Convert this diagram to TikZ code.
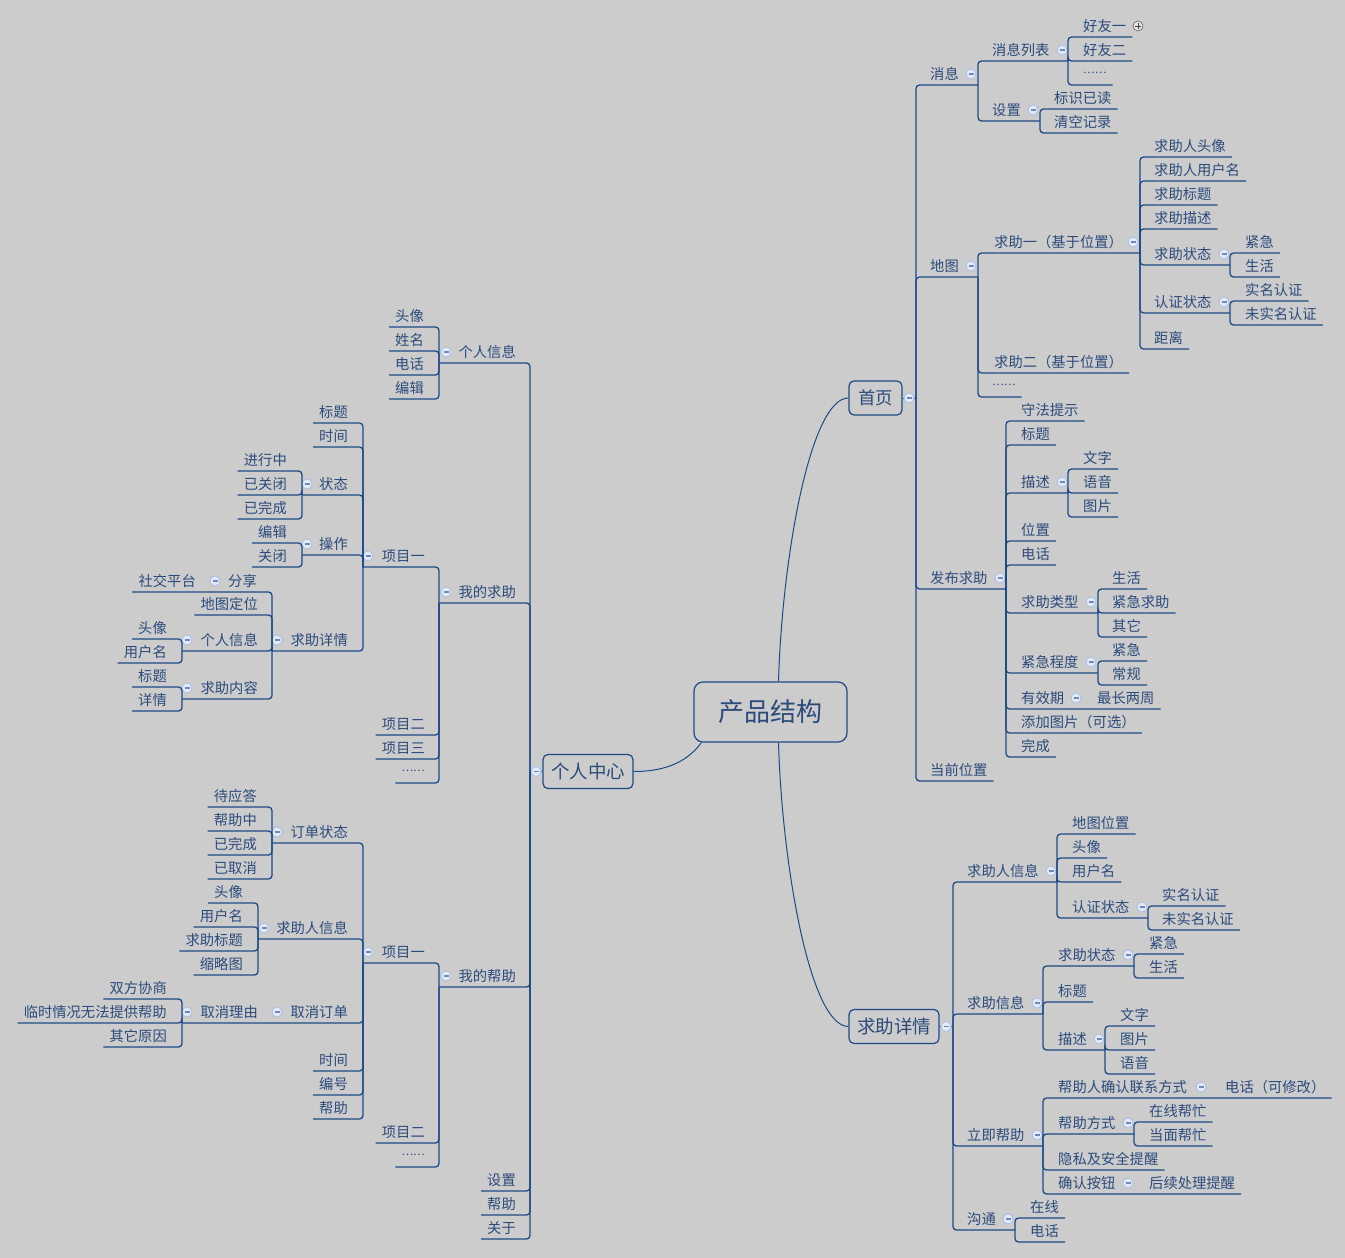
\documentclass[tikz,border=0pt]{standalone}
\usepackage{fontspec}
\setmainfont{Noto Sans CJK SC}
\usepackage{tikz}
\definecolor{mapbg}{HTML}{CCCCCC}
\definecolor{mapline}{HTML}{1D4A86}
\definecolor{maptext}{HTML}{2B4B7B}
\definecolor{knobfill}{HTML}{E2EAF8}
\definecolor{knobdraw}{HTML}{A9BDE6}
\definecolor{knobdash}{HTML}{7088BC}
\newcommand\etc{{\fontsize{11}{12}\selectfont\raisebox{6pt}{……}}}
\tikzset{
  topic/.style={font=\fontsize{14.3}{16}\selectfont, text=maptext, inner sep=0pt, text height=11pt, text depth=5pt},
  rtopic/.style={topic, anchor=south west},
  ltopic/.style={topic, anchor=south east},
  branch/.style={draw=mapline, line width=1.3pt, rounded corners=3.5pt},
  curve/.style={draw=mapline, line width=1pt},
  knob/.style={circle, inner sep=0pt, minimum size=10pt, fill=knobfill, draw=knobdraw, line width=0.8pt,
    path picture={\draw[knobdash, line width=1.2pt] ([xshift=-2.5pt]path picture bounding box.center) -- ([xshift=2.5pt]path picture bounding box.center);}},
  plusknob/.style={circle, inner sep=0pt, minimum size=10pt, fill=black!10, draw=black!55, line width=0.7pt,
    path picture={\draw[black!75, line width=0.9pt] ([xshift=-2.6pt]path picture bounding box.center) -- ([xshift=2.6pt]path picture bounding box.center)
      ([yshift=-2.6pt]path picture bounding box.center) -- ([yshift=2.6pt]path picture bounding box.center);}},
  hub/.style={draw=mapline, line width=1.2pt, rounded corners=5pt, text=maptext, minimum height=34pt, inner sep=0pt, font=\fontsize{18.5}{20}\selectfont},
  central/.style={hub, rounded corners=9pt, minimum width=153pt, minimum height=60pt, font=\fontsize{26}{30}\selectfont}
}

\begin{document}
\begin{tikzpicture}[x=1pt, y=-1pt]
  \fill[mapbg] (0,0) rectangle (1345,1258);
  \useasboundingbox (0,0) rectangle (1345,1258);

  % centre and main topics
  \node[central] (core) at (770.5,712) {产品结构};
  \node[hub, minimum width=53pt, font=\fontsize{17.5}{20}\selectfont] (home) at (875.5,398) {首页};
  \node[hub, minimum width=90pt] (mine) at (588,771.5) {个人中心};
  \node[hub, minimum width=90pt] (detail) at (894,1026.5) {求助详情};
  \draw[curve] ([xshift=8pt]core.north) .. controls (782,560) and (810,398) .. (home.west);
  \draw[curve] ([xshift=8pt]core.south) .. controls (782,864) and (810,1026.5) .. (detail.west);
  \draw[curve] ([xshift=8pt]core.south west) .. controls (685,765) and (660,771.5) .. (mine.east);

  % 首页
  \coordinate (jhome) at (916,398);
  \draw[curve] (home.east) -- (jhome);
  \node[knob] (khome) at (909,398) {};

  \node[rtopic] (msg) at (930,85) {消息};
  \coordinate (jmsg) at (978,85);
  \draw[branch] (jhome) |- (jmsg);
  \node[knob] (kmsg) at (971,74) {};
  \node[rtopic] (msglist) at (992,61) {消息列表};
  \coordinate (jmsglist) at (1068,61);
  \draw[branch] (jmsg) |- (jmsglist);
  \node[knob] (kmsglist) at (1062,50) {};
  \foreach \nm/\yy/\tx in {fr1/37/好友一, fr2/61/好友二, fr3/85/\etc} {
    \node[rtopic] (\nm) at (1083,\yy) {\tx};
    \draw[branch] (jmsglist) |- ([xshift=6pt]\nm.south east);
  }
  \node[plusknob] (kfr1) at (1138,26) {};
  \node[rtopic] (msgset) at (992,121) {设置};
  \coordinate (jmsgset) at (1040,121);
  \draw[branch] (jmsg) |- (jmsgset);
  \node[knob] (kmsgset) at (1033,110) {};
  \foreach \nm/\yy/\tx in {rd/109/标识已读, cl/133/清空记录} {
    \node[rtopic] (\nm) at (1054,\yy) {\tx};
    \draw[branch] (jmsgset) |- ([xshift=6pt]\nm.south east);
  }

  \node[rtopic] (map) at (930,277) {地图};
  \coordinate (jmap) at (978,277);
  \draw[branch] (jhome) |- (jmap);
  \node[knob] (kmap) at (971,266) {};
  \node[rtopic] (req1) at (994,253) {求助一（基于位置）};
  \coordinate (jreq1) at (1140,253);
  \draw[branch] (jmap) |- (jreq1);
  \node[knob] (kreq1) at (1133,242) {};
  \foreach \nm/\yy/\tx in {ra/157/求助人头像, rb/181/求助人用户名, rc/205/求助标题, re/229/求助描述, rf/349/距离} {
    \node[rtopic] (\nm) at (1154,\yy) {\tx};
    \draw[branch] (jreq1) |- ([xshift=6pt]\nm.south east);
  }
  \node[rtopic] (rstate) at (1154,265) {求助状态};
  \coordinate (jrstate) at (1230,265);
  \draw[branch] (jreq1) |- (jrstate);
  \node[knob] (krstate) at (1224,254) {};
  \foreach \nm/\yy/\tx in {rs1/253/紧急, rs2/277/生活} {
    \node[rtopic] (\nm) at (1245,\yy) {\tx};
    \draw[branch] (jrstate) |- ([xshift=6pt]\nm.south east);
  }
  \node[rtopic] (rauth) at (1154,313) {认证状态};
  \coordinate (jrauth) at (1230,313);
  \draw[branch] (jreq1) |- (jrauth);
  \node[knob] (krauth) at (1224,302) {};
  \foreach \nm/\yy/\tx in {ra1/301/实名认证, ra2/325/未实名认证} {
    \node[rtopic] (\nm) at (1245,\yy) {\tx};
    \draw[branch] (jrauth) |- ([xshift=6pt]\nm.south east);
  }
  \node[rtopic] (req2) at (994,373) {求助二（基于位置）};
  \draw[branch] (jmap) |- ([xshift=6pt]req2.south east);
  \node[rtopic] (mapetc) at (992,397) {\etc};
  \draw[branch] (jmap) |- ([xshift=6pt]mapetc.south east);

  \node[rtopic] (post) at (930,589) {发布求助};
  \coordinate (jpost) at (1006,589);
  \draw[branch] (jhome) |- (jpost);
  \node[knob] (kpost) at (1000,578) {};
  \foreach \nm/\yy/\tx in {p1/421/守法提示, p2/445/标题, p3/541/位置, p4/565/电话, p5/733/添加图片（可选）, p6/757/完成} {
    \node[rtopic] (\nm) at (1021,\yy) {\tx};
    \draw[branch] (jpost) |- ([xshift=6pt]\nm.south east);
  }
  \node[rtopic] (pdesc) at (1021,493) {描述};
  \coordinate (jpdesc) at (1068,493);
  \draw[branch] (jpost) |- (jpdesc);
  \node[knob] (kpdesc) at (1062,482) {};
  \foreach \nm/\yy/\tx in {pd1/469/文字, pd2/493/语音, pd3/517/图片} {
    \node[rtopic] (\nm) at (1083,\yy) {\tx};
    \draw[branch] (jpdesc) |- ([xshift=6pt]\nm.south east);
  }
  \node[rtopic] (ptype) at (1021,613) {求助类型};
  \coordinate (jptype) at (1098,613);
  \draw[branch] (jpost) |- (jptype);
  \node[knob] (kptype) at (1091,602) {};
  \foreach \nm/\yy/\tx in {pt1/589/生活, pt2/613/紧急求助, pt3/637/其它} {
    \node[rtopic] (\nm) at (1112,\yy) {\tx};
    \draw[branch] (jptype) |- ([xshift=6pt]\nm.south east);
  }
  \node[rtopic] (plevel) at (1021,673) {紧急程度};
  \coordinate (jplevel) at (1098,673);
  \draw[branch] (jpost) |- (jplevel);
  \node[knob] (kplevel) at (1091,662) {};
  \foreach \nm/\yy/\tx in {pl1/661/紧急, pl2/685/常规} {
    \node[rtopic] (\nm) at (1112,\yy) {\tx};
    \draw[branch] (jplevel) |- ([xshift=6pt]\nm.south east);
  }
  \node[rtopic] (pvalid) at (1021,709) {有效期};
  \node[knob] (kpvalid) at (1076,698) {};
  \node[rtopic] (pweeks) at (1097,709) {最长两周};
  \draw[branch] (jpost) |- ([xshift=6pt]pweeks.south east);

  \node[rtopic] (here) at (930,781) {当前位置};
  \draw[branch] (jhome) |- ([xshift=6pt]here.south east);

  % 求助详情
  \coordinate (jdetail) at (953,1026.5);
  \draw[curve] (detail.east) -- (jdetail);
  \node[knob] (kdetail) at (946,1026.5) {};

  \node[rtopic] (seeker) at (967,882) {求助人信息};
  \coordinate (jseeker) at (1057,882);
  \draw[branch] (jdetail) |- (jseeker);
  \node[knob] (kseeker) at (1051,871) {};
  \foreach \nm/\yy/\tx in {sk1/834/地图位置, sk2/858/头像, sk3/882/用户名} {
    \node[rtopic] (\nm) at (1072,\yy) {\tx};
    \draw[branch] (jseeker) |- ([xshift=6pt]\nm.south east);
  }
  \node[rtopic] (skauth) at (1072,918) {认证状态};
  \coordinate (jskauth) at (1148,918);
  \draw[branch] (jseeker) |- (jskauth);
  \node[knob] (kskauth) at (1142,907) {};
  \foreach \nm/\yy/\tx in {sa1/906/实名认证, sa2/930/未实名认证} {
    \node[rtopic] (\nm) at (1162,\yy) {\tx};
    \draw[branch] (jskauth) |- ([xshift=6pt]\nm.south east);
  }

  \node[rtopic] (rinfo) at (967,1014) {求助信息};
  \coordinate (jrinfo) at (1043,1014);
  \draw[branch] (jdetail) |- (jrinfo);
  \node[knob] (krinfo) at (1037,1003) {};
  \node[rtopic] (ristate) at (1058,966) {求助状态};
  \coordinate (jristate) at (1134,966);
  \draw[branch] (jrinfo) |- (jristate);
  \node[knob] (kristate) at (1128,955) {};
  \foreach \nm/\yy/\tx in {is1/954/紧急, is2/978/生活} {
    \node[rtopic] (\nm) at (1149,\yy) {\tx};
    \draw[branch] (jristate) |- ([xshift=6pt]\nm.south east);
  }
  \node[rtopic] (rititle) at (1058,1002) {标题};
  \draw[branch] (jrinfo) |- ([xshift=6pt]rititle.south east);
  \node[rtopic] (ridesc) at (1058,1050) {描述};
  \coordinate (jridesc) at (1105,1050);
  \draw[branch] (jrinfo) |- (jridesc);
  \node[knob] (kridesc) at (1099,1039) {};
  \foreach \nm/\yy/\tx in {id1/1026/文字, id2/1050/图片, id3/1074/语音} {
    \node[rtopic] (\nm) at (1120,\yy) {\tx};
    \draw[branch] (jridesc) |- ([xshift=6pt]\nm.south east);
  }

  \node[rtopic] (helpnow) at (967,1146) {立即帮助};
  \coordinate (jhelpnow) at (1043,1146);
  \draw[branch] (jdetail) |- (jhelpnow);
  \node[knob] (khelpnow) at (1037,1135) {};
  \node[rtopic] (contact) at (1058,1098) {帮助人确认联系方式};
  \node[knob] (kcontact) at (1201,1087) {};
  \node[rtopic] (ctphone) at (1225,1098) {电话（可修改）};
  \draw[branch] (jhelpnow) |- ([xshift=6pt]ctphone.south east);
  \node[rtopic] (way) at (1058,1134) {帮助方式};
  \coordinate (jway) at (1134,1134);
  \draw[branch] (jhelpnow) |- (jway);
  \node[knob] (kway) at (1128,1123) {};
  \foreach \nm/\yy/\tx in {wy1/1122/在线帮忙, wy2/1146/当面帮忙} {
    \node[rtopic] (\nm) at (1149,\yy) {\tx};
    \draw[branch] (jway) |- ([xshift=6pt]\nm.south east);
  }
  \node[rtopic] (privacy) at (1058,1170) {隐私及安全提醒};
  \draw[branch] (jhelpnow) |- ([xshift=6pt]privacy.south east);
  \node[rtopic] (okbtn) at (1058,1194) {确认按钮};
  \node[knob] (kokbtn) at (1128,1183) {};
  \node[rtopic] (follow) at (1149,1194) {后续处理提醒};
  \draw[branch] (jhelpnow) |- ([xshift=6pt]follow.south east);

  \node[rtopic] (talk) at (967,1230) {沟通};
  \coordinate (jtalk) at (1015,1230);
  \draw[branch] (jdetail) |- (jtalk);
  \node[knob] (ktalk) at (1008,1219) {};
  \foreach \nm/\yy/\tx in {tk1/1218/在线, tk2/1242/电话} {
    \node[rtopic] (\nm) at (1030,\yy) {\tx};
    \draw[branch] (jtalk) |- ([xshift=6pt]\nm.south east);
  }

  % 个人中心
  \coordinate (jmine) at (530,771.5);
  \draw[curve] (mine.west) -- (jmine);
  \node[knob] (kmine) at (536,771.5) {};

  \node[ltopic] (profile) at (516,363) {个人信息};
  \coordinate (jprofile) at (439,363);
  \draw[branch] (jmine) |- (jprofile);
  \node[knob] (kprofile) at (446,352) {};
  \foreach \nm/\yy/\tx in {pf1/327/头像, pf2/351/姓名, pf3/375/电话, pf4/399/编辑} {
    \node[ltopic] (\nm) at (424,\yy) {\tx};
    \draw[branch] (jprofile) |- ([xshift=-6pt]\nm.south west);
  }

  \node[ltopic] (myreq) at (516,603) {我的求助};
  \coordinate (jmyreq) at (439,603);
  \draw[branch] (jmine) |- (jmyreq);
  \node[knob] (kmyreq) at (446,592) {};
  \node[ltopic] (mr1) at (425,567) {项目一};
  \coordinate (jmr1) at (363,567);
  \draw[branch] (jmyreq) |- (jmr1);
  \node[knob] (kmr1) at (368,556) {};
  \foreach \nm/\yy/\tx in {mt1/423/标题, mt2/447/时间} {
    \node[ltopic] (\nm) at (348,\yy) {\tx};
    \draw[branch] (jmr1) |- ([xshift=-6pt]\nm.south west);
  }
  \node[ltopic] (mrstate) at (348,495) {状态};
  \coordinate (jmrstate) at (302,495);
  \draw[branch] (jmr1) |- (jmrstate);
  \node[knob] (kmrstate) at (307,484) {};
  \foreach \nm/\yy/\tx in {ms1/471/进行中, ms2/495/已关闭, ms3/519/已完成} {
    \node[ltopic] (\nm) at (287,\yy) {\tx};
    \draw[branch] (jmrstate) |- ([xshift=-6pt]\nm.south west);
  }
  \node[ltopic] (mrop) at (348,555) {操作};
  \coordinate (jmrop) at (302,555);
  \draw[branch] (jmr1) |- (jmrop);
  \node[knob] (kmrop) at (307,544) {};
  \foreach \nm/\yy/\tx in {mo1/543/编辑, mo2/567/关闭} {
    \node[ltopic] (\nm) at (287,\yy) {\tx};
    \draw[branch] (jmrop) |- ([xshift=-6pt]\nm.south west);
  }
  \node[ltopic] (mrdet) at (348,651) {求助详情};
  \coordinate (jmrdet) at (272,651);
  \draw[branch] (jmr1) |- (jmrdet);
  \node[knob] (kmrdet) at (277,640) {};
  \node[ltopic] (share) at (257,592) {分享};
  \node[knob] (kshare) at (215,581) {};
  \node[ltopic] (social) at (196,592) {社交平台};
  \draw[branch] (jmrdet) |- ([xshift=-6pt]social.south west);
  \node[ltopic] (mdloc) at (258,615) {地图定位};
  \draw[branch] (jmrdet) |- ([xshift=-6pt]mdloc.south west);
  \node[ltopic] (mdinfo) at (258,651) {个人信息};
  \coordinate (jmdinfo) at (182,651);
  \draw[branch] (jmrdet) |- (jmdinfo);
  \node[knob] (kmdinfo) at (187,640) {};
  \foreach \nm/\yy/\tx in {mi1/639/头像, mi2/663/用户名} {
    \node[ltopic] (\nm) at (167,\yy) {\tx};
    \draw[branch] (jmdinfo) |- ([xshift=-6pt]\nm.south west);
  }
  \node[ltopic] (mdcont) at (258,699) {求助内容};
  \coordinate (jmdcont) at (182,699);
  \draw[branch] (jmrdet) |- (jmdcont);
  \node[knob] (kmdcont) at (187,688) {};
  \foreach \nm/\yy/\tx in {mc1/687/标题, mc2/711/详情} {
    \node[ltopic] (\nm) at (167,\yy) {\tx};
    \draw[branch] (jmdcont) |- ([xshift=-6pt]\nm.south west);
  }
  \foreach \nm/\yy/\tx in {mr2/735/项目二, mr3/759/项目三, mr4/783/\etc} {
    \node[ltopic] (\nm) at (425,\yy) {\tx};
    \draw[branch] (jmyreq) |- ([xshift=-6pt]\nm.south west);
  }

  \node[ltopic] (myhelp) at (516,987) {我的帮助};
  \coordinate (jmyhelp) at (439,987);
  \draw[branch] (jmine) |- (jmyhelp);
  \node[knob] (kmyhelp) at (446,976) {};
  \node[ltopic] (mh1) at (425,963) {项目一};
  \coordinate (jmh1) at (363,963);
  \draw[branch] (jmyhelp) |- (jmh1);
  \node[knob] (kmh1) at (368,952) {};
  \node[ltopic] (order) at (348,843) {订单状态};
  \coordinate (jorder) at (272,843);
  \draw[branch] (jmh1) |- (jorder);
  \node[knob] (korder) at (277,832) {};
  \foreach \nm/\yy/\tx in {od1/807/待应答, od2/831/帮助中, od3/855/已完成, od4/879/已取消} {
    \node[ltopic] (\nm) at (257,\yy) {\tx};
    \draw[branch] (jorder) |- ([xshift=-6pt]\nm.south west);
  }
  \node[ltopic] (mhseek) at (348,939) {求助人信息};
  \coordinate (jmhseek) at (258,939);
  \draw[branch] (jmh1) |- (jmhseek);
  \node[knob] (kmhseek) at (264,928) {};
  \foreach \nm/\yy/\tx in {hs1/903/头像, hs2/927/用户名, hs3/951/求助标题, hs4/975/缩略图} {
    \node[ltopic] (\nm) at (243,\yy) {\tx};
    \draw[branch] (jmhseek) |- ([xshift=-6pt]\nm.south west);
  }
  \node[ltopic] (cancel) at (348,1023) {取消订单};
  \node[knob] (kcancel) at (277,1012) {};
  \node[ltopic] (reason) at (258,1023) {取消理由};
  \coordinate (jreason) at (182,1023);
  \draw[branch] (jmh1) |- (jreason);
  \node[knob] (kreason) at (187,1012) {};
  \foreach \nm/\yy/\tx in {cr1/999/双方协商, cr2/1023/临时情况无法提供帮助, cr3/1047/其它原因} {
    \node[ltopic] (\nm) at (167,\yy) {\tx};
    \draw[branch] (jreason) |- ([xshift=-6pt]\nm.south west);
  }
  \foreach \nm/\yy/\tx in {mx1/1071/时间, mx2/1095/编号, mx3/1119/帮助} {
    \node[ltopic] (\nm) at (348,\yy) {\tx};
    \draw[branch] (jmh1) |- ([xshift=-6pt]\nm.south west);
  }
  \foreach \nm/\yy/\tx in {mh2/1143/项目二, mh3/1167/\etc} {
    \node[ltopic] (\nm) at (425,\yy) {\tx};
    \draw[branch] (jmyhelp) |- ([xshift=-6pt]\nm.south west);
  }

  \foreach \nm/\yy/\tx in {tl1/1191/设置, tl2/1215/帮助, tl3/1239/关于} {
    \node[ltopic] (\nm) at (516,\yy) {\tx};
    \draw[branch] (jmine) |- ([xshift=-6pt]\nm.south west);
  }
\end{tikzpicture}
\end{document}
